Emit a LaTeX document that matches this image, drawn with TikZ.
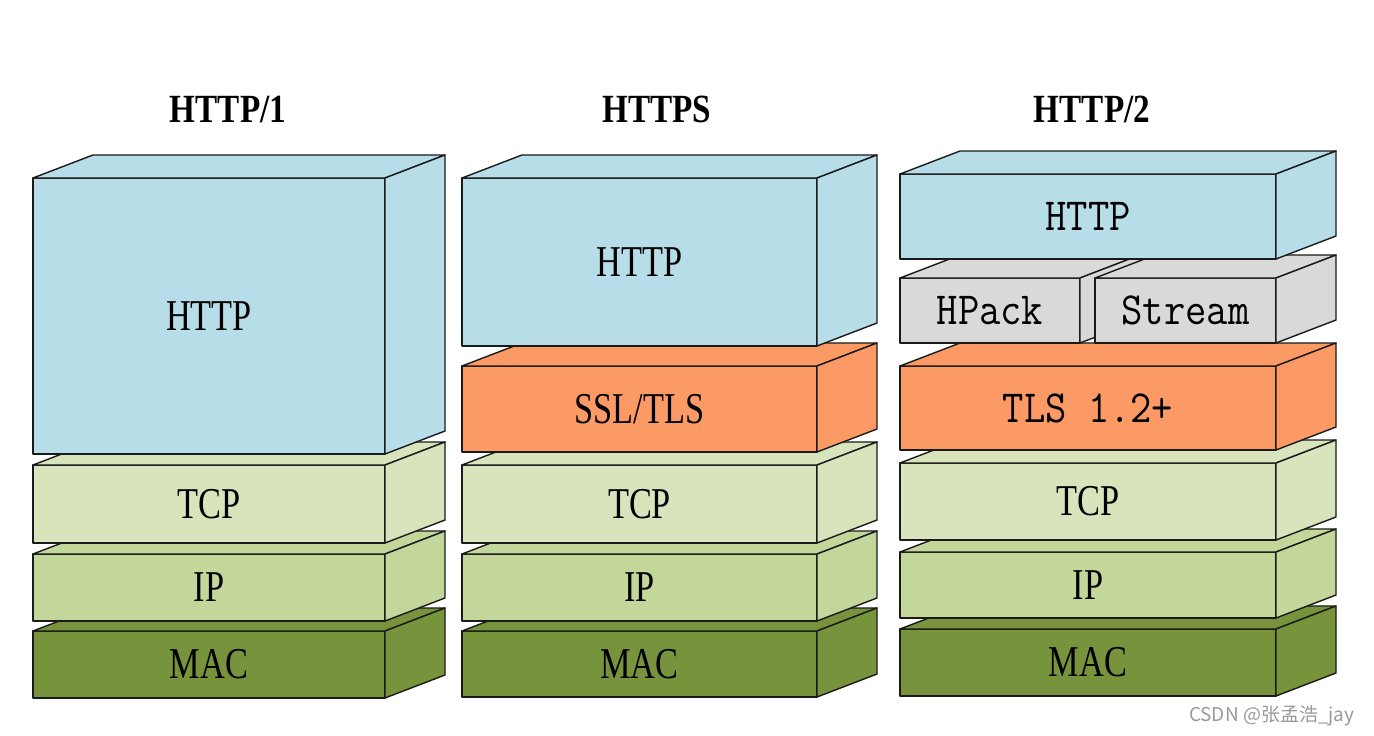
\documentclass[tikz,border=0pt]{standalone}
\usepackage{fontspec}
\setmainfont{Liberation Serif}
\setmonofont{Latin Modern Mono}
\newfontfamily\cjkf{Noto Sans CJK SC}
\definecolor{httpblue}{HTML}{B7DDE8}
\definecolor{tlsorange}{HTML}{FC9A66}
\definecolor{tcpgreen}{HTML}{D8E4BC}
\definecolor{ipgreen}{HTML}{C4D79B}
\definecolor{macgreen}{HTML}{77933C}
\definecolor{hgray}{HTML}{D9D9D9}
\definecolor{edge}{HTML}{1A1A1A}
\tikzset{
  front/.style={draw=edge, line width=1.4pt, line join=round, inner sep=0pt, outer sep=0pt, rectangle},
  face/.style={draw=edge, line width=1.4pt, line join=round},
  title/.style={font=\bfseries\fontsize{40}{40}\selectfont, anchor=base},
}
\newcommand\serlab[1]{\scalebox{0.78}[1]{\fontsize{44}{44}\selectfont #1}}
\newcommand\monlab[1]{\scalebox{0.9}[1]{\ttfamily\fontsize{46}{46}\selectfont #1}}
% name, x1, y1, x2, y2, colour, label
\newcommand\layerbox[7]{%
  \node[front, fill=#6, minimum width={(#4-#2)*1pt}, minimum height={(#5-#3)*1pt}]
    (#1) at ({(#2+#4)/2},{(#3+#5)/2}) {#7};
  \draw[face, fill=#6] (#1.north west) -- ([xshift=60pt,yshift=23pt]#1.north west)
    -- ([xshift=60pt,yshift=23pt]#1.north east) -- (#1.north east) -- cycle;
  \draw[face, fill=#6] (#1.north east) -- ([xshift=60pt,yshift=23pt]#1.north east)
    -- ([xshift=60pt,yshift=23pt]#1.south east) -- (#1.south east) -- cycle;
}
\begin{document}
\begin{tikzpicture}[x=1pt,y=-1pt]
\useasboundingbox[fill=white] (0,0) rectangle (1374,736);

% titles
\node[title] (t1) at (228,122) {\scalebox{0.83}[1]{HTTP/1}};
\node[title] (t2) at (657,122) {\scalebox{0.83}[1]{HTTPS}};
\node[title] (t3) at (1092,122) {\scalebox{0.83}[1]{HTTP/2}};

% stack 1
\layerbox{amac}{33}{631}{385}{698}{macgreen}{\serlab{MAC}}
\layerbox{aip}{33}{554}{385}{621}{ipgreen}{\serlab{IP}}
\layerbox{atcp}{33}{465}{385}{543}{tcpgreen}{\serlab{TCP}}
\layerbox{ahttp}{33}{178}{385}{454}{httpblue}{\serlab{HTTP}}

% stack 2
\layerbox{bmac}{462}{631}{817}{697}{macgreen}{\serlab{MAC}}
\layerbox{bip}{462}{554}{817}{621}{ipgreen}{\serlab{IP}}
\layerbox{btcp}{462}{465}{817}{543}{tcpgreen}{\serlab{TCP}}
\layerbox{bssl}{462}{366}{817}{452}{tlsorange}{\serlab{SSL/TLS}}
\layerbox{bhttp}{462}{178}{817}{346}{httpblue}{\serlab{HTTP}}

% stack 3
\layerbox{cmac}{900}{629}{1276}{696}{macgreen}{\serlab{MAC}}
\layerbox{cip}{900}{552}{1276}{618}{ipgreen}{\serlab{IP}}
\layerbox{ctcp}{900}{463}{1276}{540}{tcpgreen}{\serlab{TCP}}
\layerbox{ctls}{900}{366}{1276}{450}{tlsorange}{\monlab{TLS 1.2+}}
\layerbox{chpack}{900}{278}{1080}{343}{hgray}{\monlab{HPack}}
\layerbox{cstream}{1095}{278}{1276}{343}{hgray}{\monlab{Stream}}
\layerbox{chttp}{900}{174}{1276}{259}{httpblue}{\monlab{HTTP}}

% watermark
\node[anchor=base east, text=black!40, font=\cjkf\fontsize{19}{19}\selectfont] (wm) at (1358,721) {CSDN @张孟浩\_jay};
\end{tikzpicture}
\end{document}
